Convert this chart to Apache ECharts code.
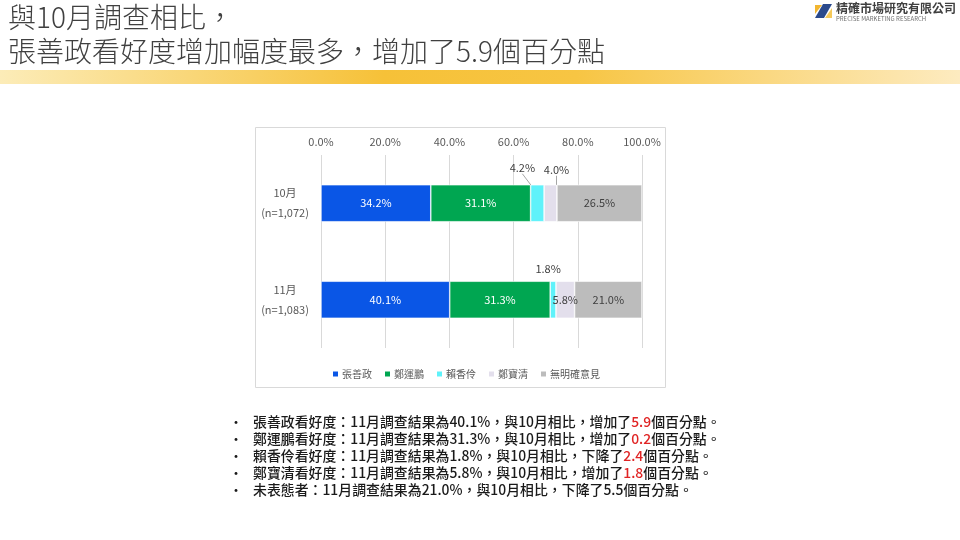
<!DOCTYPE html>
<html><head><meta charset="utf-8">
<script src="https://cdn.jsdelivr.net/npm/echarts@6/dist/echarts.min.js"></script>
<style>html,body{margin:0;padding:0;background:#fff}#c{width:960px;height:540px}</style>
</head><body><div id="c"></div>
<script>
// ---- data ----
const categories = ['10月', '11月'];
const sampleSizes = ['n=1,072', 'n=1,083'];
const seriesNames = ['張善政', '鄭運鵬', '賴香伶', '鄭寶清', '無明確意見'];
const zhangShanZheng = [34.2, 40.1];
const zhengYunPeng = [31.1, 31.3];
const laiXiangLing = [4.2, 1.8];
const zhengBaoQing = [4.0, 5.8];
const noOpinion = [26.5, 21.0];
const xTicks = [0, 20, 40, 60, 80, 100];
const titleLines = ['與10月調查相比，', '張善政看好度增加幅度最多，增加了5.9個百分點'];
const bulletLines = [
  ['張善政看好度：11月調查結果為40.1%，與10月相比，增加了', '5.9', '個百分點。'],
  ['鄭運鵬看好度：11月調查結果為31.3%，與10月相比，增加了', '0.2', '個百分點。'],
  ['賴香伶看好度：11月調查結果為1.8%，與10月相比，下降了', '2.4', '個百分點。'],
  ['鄭寶清看好度：11月調查結果為5.8%，與10月相比，增加了', '1.8', '個百分點。'],
  ['未表態者：11月調查結果為21.0%，與10月相比，下降了5.5個百分點。', '', '']
];
const logoName = '精確市場研究有限公司';
const logoSub = 'PRECISE MARKETING RESEARCH';

const FONT = '"Noto Sans CJK TC", "Noto Sans", sans-serif';
const colors = ['#0a56e6', '#00a651', '#5ff2fa', '#e3dfec', '#bcbcbc'];
const values = [zhangShanZheng, zhengYunPeng, laiXiangLing, zhengBaoQing, noOpinion];

const chart = echarts.init(document.getElementById('c'), null, {renderer: 'canvas'});

function fmt(v) { return v.toFixed(1) + '%'; }

const labelOffsets = {
  2: [[-15, -6], [-5, -2]],
  3: [[6, -4], null]
};

const series = seriesNames.map((name, si) => {
  const data = values[si].map((v, di) => {
    const item = {value: v};
    if (si === 2 || (si === 3 && di === 0)) {
      item.label = {show: true, position: 'top', distance: 5, color: '#404040'};
      item.labelLine = {show: di === 0};
    }
    return item;
  });
  return {
    name: name,
    type: 'bar',
    stack: 'total',
    barWidth: 37,
    data: data,
    itemStyle: {color: colors[si], borderColor: '#ffffff', borderWidth: 0.6},
    label: {
      show: true,
      position: 'inside',
      formatter: p => fmt(p.value),
      fontFamily: FONT,
      fontSize: 11,
      color: si < 2 ? '#ffffff' : '#404040'
    },
    labelLine: {show: si === 2 || si === 3, lineStyle: {color: '#a6a6a6', width: 1}},
    labelLayout: (params) => {
      const o = labelOffsets[si] && labelOffsets[si][params.dataIndex];
      if (o) return {dx: o[0], dy: o[1]};
      return {};
    }
  };
});

// bullets graphic
const bulletGraphics = [];
bulletLines.forEach((parts, i) => {
  const y = 424 + i * 17;
  bulletGraphics.push({
    type: 'text', left: 229, top: y - 9,
    style: {text: '•', font: '14px ' + FONT, fill: '#1a1a1a'}
  });
  bulletGraphics.push({
    type: 'text', left: 253, top: y - 9,
    style: {
      text: '{a|' + parts[0] + '}' + (parts[1] ? '{r|' + parts[1] + '}' : '') + (parts[2] ? '{a|' + parts[2] + '}' : ''),
      rich: {
        a: {fontFamily: FONT, fontSize: 13.9, fontWeight: 500, fill: '#1a1a1a', color: '#1a1a1a'},
        r: {fontFamily: FONT, fontSize: 13.9, fontWeight: 500, fill: '#e02424', color: '#e02424'}
      }
    }
  });
});

const option = {
  animation: false,
  color: colors,
  textStyle: {fontFamily: FONT},
  grid: {left: 321, right: 318, top: 155, bottom: 192},
  xAxis: {
    type: 'value', position: 'top', min: 0, max: 100, interval: 20,
    axisLine: {show: false}, axisTick: {show: false},
    axisLabel: {formatter: v => xTicks.includes(v) ? fmt(v) : '', color: '#595959', fontSize: 11, margin: 8, fontFamily: FONT},
    splitLine: {lineStyle: {color: '#d9d9d9'}}
  },
  yAxis: {
    type: 'category', inverse: true, data: categories,
    axisLine: {show: false}, axisTick: {show: false},
    axisLabel: {
      formatter: (v, i) => v + '\n(' + sampleSizes[i] + ')',
      align: 'center', margin: 36, lineHeight: 20, color: '#595959', fontSize: 11, fontFamily: FONT
    }
  },
  legend: {
    data: seriesNames, left: 326, top: 364, icon: 'rect', itemWidth: 7, itemHeight: 7, itemGap: 11,
    textStyle: {color: '#595959', fontSize: 10, fontFamily: FONT, padding: [0, 0, 0, -2]}
  },
  series: series,
  graphic: [
    {type: 'rect', shape: {x: 0, y: 70, width: 960, height: 14}, z: -1,
      style: {fill: new echarts.graphic.LinearGradient(0, 0, 1, 0, [
        {offset: 0, color: '#fcecb8'}, {offset: 0.4, color: '#f6c138'},
        {offset: 0.6, color: '#f7c543'}, {offset: 1, color: '#fdebc0'}])}},
    {type: 'text', left: 8, top: 3, style: {text: titleLines[0], font: '300 28px ' + FONT, fill: '#404040'}},
    {type: 'text', left: 8, top: 37, style: {text: titleLines[1], font: '300 28px ' + FONT, fill: '#404040'}},
    {type: 'rect', shape: {x: 255.5, y: 127.5, width: 410, height: 260}, z: -1,
      style: {fill: 'none', stroke: '#d9d9d9', lineWidth: 1}},
    // logo
    {type: 'polygon', shape: {points: [[815, 18], [823, 4], [832, 4], [824, 18]]}, style: {fill: '#2b4a8c'}},
    {type: 'polygon', shape: {points: [[815, 5], [822, 5], [815, 14]]}, style: {fill: '#f2b630'}},
    {type: 'polygon', shape: {points: [[825, 18], [832, 8], [832, 18]]}, style: {fill: '#f5c95a'}},
    {type: 'text', left: 836, top: 2, style: {text: logoName, font: 'bold 12px ' + FONT, fill: '#404040'}},
    {type: 'text', left: 836, top: 16, style: {text: logoSub, font: '6px ' + FONT, fill: '#707070'}},
    ...bulletGraphics
  ]
};
chart.setOption(option);
</script>
</body></html>
